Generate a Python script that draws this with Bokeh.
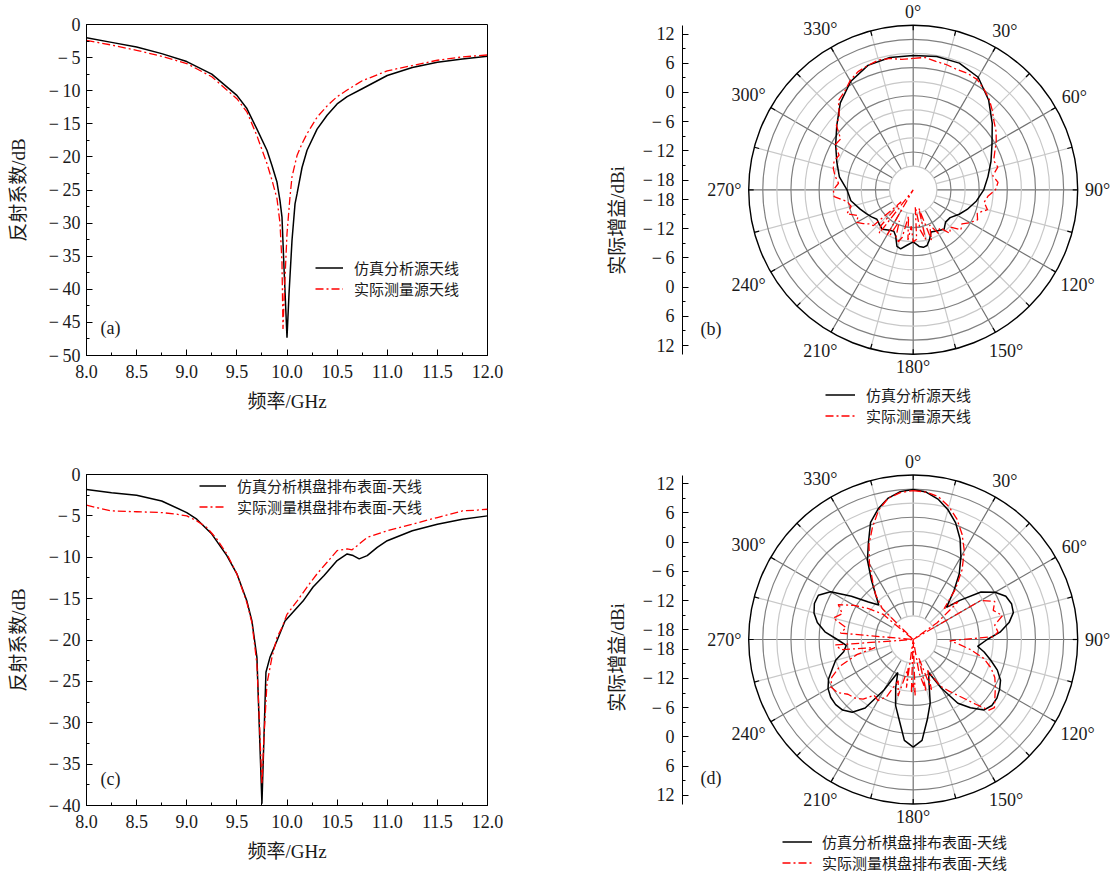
import numpy as np
from bokeh.plotting import figure
from bokeh.models import (Range1d, FixedTicker, Legend, LegendItem, Label, NumeralTickFormatter, Spacer)
from bokeh.layouts import row, column
from bokeh.embed import file_html
from bokeh.resources import INLINE

# ---------------- data ----------------
# (a) source antenna reflection coefficient
freq_a_sim = [8.0, 8.25, 8.5, 8.75, 9.0, 9.25, 9.5, 9.6, 9.7, 9.8, 9.85, 9.9, 9.93, 9.95, 9.97, 10.0,
              10.02, 10.05, 10.08, 10.1, 10.15, 10.2, 10.3, 10.4, 10.5, 10.6, 10.75, 11.0, 11.25, 11.5, 11.75, 12.0]
s11_a_sim = [-2.0, -2.7, -3.4, -4.4, -5.6, -7.5, -10.7, -12.7, -15.8, -19.0, -21.3, -23.8, -26.6, -29.1, -36.7, -47.3,
             -40.7, -32.6, -27.1, -25.6, -21.6, -19.0, -15.8, -13.7, -12.0, -10.9, -9.7, -7.7, -6.5, -5.7, -5.2, -4.8]
freq_a_meas = [8.0, 8.25, 8.5, 8.75, 9.0, 9.25, 9.5, 9.6, 9.7, 9.8, 9.85, 9.9, 9.93, 9.95, 9.96, 9.975,
               10.0, 10.03, 10.05, 10.1, 10.15, 10.2, 10.3, 10.4, 10.5, 10.6, 10.75, 11.0, 11.25, 11.5, 11.75, 12.0]
s11_a_meas = [-2.4, -3.1, -3.9, -4.8, -5.9, -7.9, -11.2, -13.2, -16.8, -21.0, -23.5, -26.3, -30.0, -36.0, -46.0, -40.0,
              -31.6, -26.0, -23.0, -19.8, -18.0, -16.5, -14.0, -12.3, -10.9, -9.9, -8.5, -7.0, -6.2, -5.4, -4.9, -4.6]

# (c) checkerboard surface + antenna reflection coefficient
freq_c_sim = [8.0, 8.25, 8.5, 8.75, 9.0, 9.1, 9.25, 9.4, 9.5, 9.6, 9.65, 9.7, 9.75, 9.79, 9.83, 9.9, 9.98,
              10.07, 10.16, 10.26, 10.37, 10.5, 10.6, 10.66, 10.72, 10.8, 10.9, 11.0, 11.25, 11.5, 11.75, 12.0]
s11_c_sim = [-1.8, -2.2, -2.5, -3.2, -4.6, -5.4, -7.2, -9.8, -12.0, -15.3, -17.7, -22.1, -39.8, -23.9, -22.1, -20.1, -17.7,
             -16.5, -15.3, -13.6, -12.2, -10.4, -9.6, -9.8, -10.2, -9.8, -8.8, -8.0, -6.8, -6.0, -5.4, -5.0]
freq_c_meas = [8.0, 8.1, 8.25, 8.5, 8.75, 8.9, 9.0, 9.1, 9.2, 9.3, 9.4, 9.5, 9.6, 9.65, 9.7, 9.73, 9.75, 9.77,
               9.8, 9.85, 9.9, 9.95, 10.0, 10.1, 10.2, 10.3, 10.4, 10.5, 10.6, 10.65, 10.7, 10.8, 11.0, 11.25,
               11.5, 11.75, 11.9, 12.0]
s11_c_meas = [-3.7, -4.0, -4.4, -4.5, -4.6, -4.8, -5.0, -5.6, -6.4, -7.8, -9.6, -12.0, -15.5, -17.9, -22.9, -31.4, -37.4, -31.8,
              -25.3, -22.1, -19.7, -18.5, -16.9, -15.3, -13.6, -12.0, -10.6, -9.2, -9.0, -9.1, -8.6, -7.6, -6.8, -6.0,
              -5.2, -4.4, -4.3, -4.2]

# (b) source antenna pattern (angle in degrees, gain in dBi)
ang_b_sim = [0, 10, 20, 30, 40, 50, 60, 70, 80, 90, 100, 110, 118, 127, 135, 142, 149, 157, 162, 166, 170, 174,
             180, 186, 192, 196, 201, 205, 210, 218, 225, 231, 237, 243, 250, 260, 270, 280, 290, 300, 310, 320,
             330, 340, 350]
gain_b_sim = [7.6, 7.8, 7.7, 6.7, 4.1, 1.2, -1.3, -3.0, -4.4, -5.5, -6.8, -8.2, -9.3, -10.5, -10.6, -9.7, -10.2,
              -10.6, -9.2, -8.2, -8.0, -8.3, -9.3, -8.6, -7.6, -7.9, -9.9, -10.6, -10.4, -9.7, -10.1, -10.4, -9.8,
              -9.2, -8.4, -7.0, -6.4, -4.6, -3.3, -1.6, 0.5, 3.3, 5.7, 7.2, 7.6]
ang_b_meas = [0, 5, 10, 15, 20, 25, 30, 35, 40, 45, 50, 55, 60, 65, 70, 75, 80, 85, 90, 95, 100, 105, 110, 115,
              120, 125, 130, 135, 140, 145, 150, 155, 160, 163, 166, 170, 173, 176, 180, 183, 186, 190, 193, 196,
              200, 204, 207, 210, 214, 218, 222, 225, 228, 232, 236, 240, 245, 250, 255, 260, 265, 270, 275, 280,
              285, 290, 295, 300, 305, 310, 315, 320, 325, 330, 335, 340, 345, 350, 355]
gain_b_meas = [7.0, 7.3, 6.8, 6.6, 6.3, 6.4, 6.2, 5.3, 4.3, 3.0, 1.7, 0.8, -0.3, -1.5, -2.4, -2.0, -3.4, -2.5,
               -3.1, -4.6, -5.2, -4.2, -6.0, -5.4, -6.5, -7.8, -7.2, -9.2, -8.3, -10.5, -9.7, -12.0, -9.0, -16.0,
               -9.5, -11.6, -16.5, -9.8, -9.3, -12.5, -9.6, -14.5, -10.0, -8.9, -9.7, -13.0, -9.5, -9.3, -22.0,
               -8.7, -10.0, -16.5, -9.0, -8.6, -7.6, -6.6, -7.5, -5.5, -6.8, -6.2, -3.7, -3.6, -4.6, -3.7, -3.0,
               -2.7, -3.2, -1.5, -1.8, 0.6, 1.5, 3.9, 4.6, 5.9, 6.8, 7.2, 7.6, 7.4, 6.9]

# (d) checkerboard surface + antenna pattern
ang_d_sim = [0, 5, 10, 15, 20, 25, 30, 35, 40, 46, 50, 55, 60, 65, 70, 75, 80, 85, 90, 96, 100, 105, 110, 115,
             120, 125, 130, 135, 140, 145, 150, 155, 160, 165, 170, 175, 180, 185, 190, 195, 200, 205, 210, 215,
             220, 225, 230, 235, 240, 245, 250, 255, 260, 265, 270, 275, 280, 285, 290, 295, 300, 305, 310, 315,
             320, 325, 330, 335, 340, 345, 350, 355]
gain_d_sim = [10.8, 10.4, 9.3, 7.6, 5.5, 2.8, -0.4, -3.5, -7.0, -10.5, -7.5, -3.0, -0.6, 1.0, 1.5, 1.3, 0.0, -2.0,
              -4.8, -6.7, -5.2, -3.5, -1.6, -0.2, 0.5, 1.0, 1.1, 0.5, -1.7, -4.0, -8.5, -12.5, -10.5, -6.5, -3.3,
              0.8, 2.1, 0.8, -3.3, -6.0, -9.5, -12.5, -8.0, -2.8, -0.5, 0.5, 0.8, 0.7, 0.2, -0.8, -2.3, -3.5, -5.5,
              -6.2, -4.4, -1.8, 0.0, 1.1, 1.6, 1.5, -0.4, -4.5, -8.0, -10.0, -8.0, -5.0, -1.2, 1.8, 5.6, 7.8, 9.5,
              10.5]
ang_d_meas = [0, 5, 10, 15, 20, 25, 30, 35, 40, 45, 50, 55, 57, 60, 65, 70, 75, 80, 85, 88, 92, 95, 100, 105,
              110, 115, 120, 125, 130, 133, 136, 140, 145, 150, 155, 160, 163, 166, 170, 175, 178, 180, 182, 185,
              188, 190, 195, 200, 205, 210, 215, 220, 225, 230, 235, 240, 245, 250, 255, 258, 262, 266, 270, 275,
              280, 285, 290, 295, 300, 305, 310, 312, 315, 320, 325, 330, 335, 340, 345, 350, 355]
gain_d_meas = [10.6, 10.4, 9.8, 8.3, 6.3, 3.8, 1.0, -2.5, -6.5, -11.0,
               -8.0, -14.0, -25.0, -4.0, -1.5, -2.5, -1.0, -3.0, -2.5, -3.5,
               -12.5, -11.0, -8.0, -5.0, -3.0, -1.5, -0.5, 0.5, 1.8, 1.3,
               -1.5, -4.5, -7.0, -9.0, -13.0, -9.0, -16.0, -9.0, -13.0, -25.0,
               -8.5, -11.0, -9.0, -25.0, -10.0, -14.0, -8.0, -11.0, -7.0, -5.5,
               -6.0, -4.0, -3.0, -2.5, -1.0, -0.5, -1.5, -4.0, -8.0, -12.0,
               -5.0, -4.0, -22.0, -5.0, -6.0, -3.0, -4.5, -3.0, -6.0, -9.0,
               -12.0, -26.0, -11.0, -8.0, -5.5, -2.0, 1.5, 4.5, 7.5, 9.5,
               10.3]

# text / ticks
lab_src_sim = "仿真分析源天线"
lab_src_meas = "实际测量源天线"
lab_chk_sim = "仿真分析棋盘排布表面-天线"
lab_chk_meas = "实际测量棋盘排布表面-天线"
freq_ticks = [8.0, 8.5, 9.0, 9.5, 10.0, 10.5, 11.0, 11.5, 12.0]
gain_ticks_db = [12, 6, 0, -6, -12, -18]
angle_ticks = [0, 30, 60, 90, 120, 150, 180, 210, 240, 270, 300, 330]
GAIN_MIN = -20.0  # dBi at the centre of the polar plots

# ---------------- styles ----------------
SERIF = "'Liberation Serif'"
MIXED = "'Liberation Serif', 'Noto Sans CJK SC'"
MINUS = "\u2212\u2009"
RED = "#ff0000"
DASHDOT = "8 3 2 3"
NUM_SIZE = "18px"
TITLE_SIZE = "19px"
LEG_SIZE = "15px"
TXT = "#1a1a1a"


def fmt(v):
    return MINUS + str(abs(v)) if v < 0 else str(v)


def style_axis(ax, label):
    ax.axis_label = label
    ax.axis_label_text_font = MIXED
    ax.axis_label_text_font_size = TITLE_SIZE
    ax.axis_label_text_font_style = "normal"
    ax.axis_label_text_color = TXT
    ax.major_label_text_font = SERIF
    ax.major_label_text_font_size = NUM_SIZE
    ax.major_label_text_color = TXT
    ax.major_tick_in = 6
    ax.major_tick_out = 0
    ax.minor_tick_in = 3
    ax.minor_tick_out = 0
    ax.axis_line_color = "black"
    ax.major_tick_line_color = "black"
    ax.minor_tick_line_color = "black"


def make_legend(items, loc, glyph_w, standoff):
    return Legend(items=items, location=loc, border_line_alpha=0, background_fill_alpha=0,
                  glyph_width=glyph_w, glyph_height=19, label_height=19, label_standoff=standoff,
                  spacing=0, padding=0, margin=0, label_text_font=MIXED,
                  label_text_font_size=LEG_SIZE, label_text_color=TXT)


def sparam_fig(h, top, bottom, ymin, fs, ss, fm, sm, lab_s, lab_m, leg_loc, leg_gw, tag, tag_y):
    p = figure(width=600, height=h, x_range=Range1d(8, 12), y_range=Range1d(ymin, 0),
               output_backend="svg", toolbar_location=None,
               min_border_left=86, min_border_right=113, min_border_top=top, min_border_bottom=bottom)
    p.grid.visible = False
    p.outline_line_color = "black"
    p.outline_line_width = 1
    p.outline_line_alpha = 1
    p.xaxis.ticker = FixedTicker(ticks=freq_ticks,
                                 minor_ticks=[float(v) for v in np.arange(8.0, 12.01, 0.25)])
    p.xaxis.formatter = NumeralTickFormatter(format="0.0")
    yt = list(range(ymin, 1, 5))
    p.yaxis.ticker = FixedTicker(ticks=yt, minor_ticks=[float(v) for v in np.arange(ymin, 0.01, 2.5)])
    p.yaxis.major_label_overrides = {v: fmt(v) for v in yt}
    style_axis(p.xaxis[0], "频率/GHz")
    style_axis(p.yaxis[0], "反射系数/dB")
    p.xaxis.major_label_standoff = 9
    p.xaxis.axis_label_standoff = 10
    p.yaxis.major_label_standoff = 6
    p.yaxis.axis_label_standoff = 17
    r1 = p.line(fs, ss, line_color="black", line_width=1.5)
    r2 = p.line(fm, sm, line_color=RED, line_width=1.3, line_dash=DASHDOT)
    p.add_layout(make_legend([LegendItem(label=lab_s, renderers=[r1]),
                              LegendItem(label=lab_m, renderers=[r2])], leg_loc, leg_gw, 11))
    p.add_layout(Label(x=8.14, y=tag_y, text=tag, text_font=SERIF, text_font_size=NUM_SIZE,
                       text_baseline="middle", text_align="left", text_color=TXT))
    return p


S = 4.867            # px per dB in polar plots
R_IN = 23.7 / S
R_OUT = 164.5 / S


def to_xy(ang, gain):
    a = np.radians(np.append(ang, ang[0]))
    r = np.clip(np.append(gain, gain[0]) - GAIN_MIN, 0, None)
    return r * np.sin(a), r * np.cos(a)


def polar_fig(h, cy, ang_s, g_s, ang_m, g_m, lab_s, lab_m, leg_loc, leg_gw, leg_so, tag):
    cx, left, w = 312.7, 82, 514
    p = figure(width=w, height=h, x_range=Range1d((left - cx) / S, (w - cx) / S),
               y_range=Range1d(-(h - cy) / S, cy / S), x_axis_location=None,
               output_backend="svg", toolbar_location=None,
               min_border_left=left, min_border_right=0, min_border_top=0, min_border_bottom=0)
    p.grid.visible = False
    p.outline_line_color = None
    ticks = [g - GAIN_MIN for g in gain_ticks_db] + [-(g - GAIN_MIN) for g in gain_ticks_db[::-1]]
    ticks = [int(t) for t in ticks]
    minor = [t - 3 for t in ticks if t > 0 and t - 3 > 0] + [t + 3 for t in ticks if t < 0 and t + 3 < 0]
    p.yaxis.ticker = FixedTicker(ticks=ticks, minor_ticks=minor)
    p.yaxis.major_label_overrides = {t: fmt(int(abs(t) + GAIN_MIN)) for t in ticks}
    p.yaxis.bounds = (-R_OUT, R_OUT)
    style_axis(p.yaxis[0], "实际增益/dBi")
    p.yaxis.major_label_standoff = 8
    p.yaxis.axis_label_standoff = 12

    # grid: spokes
    for start, col in ((15, "#c8c8c8"), (0, "#707070")):
        a = np.radians(np.arange(start, 360, 30))
        p.segment(x0=R_IN * np.sin(a), y0=R_IN * np.cos(a), x1=R_OUT * np.sin(a), y1=R_OUT * np.cos(a),
                  line_color=col, line_width=1.2)
    # grid: circles
    step = (R_OUT - R_IN) / 10
    light = [R_IN + k * step for k in (2, 4, 6, 8)]
    dark = [R_IN + k * step for k in (1, 3, 5, 7, 9)]
    p.circle(x=[0] * 4, y=[0] * 4, radius=light, fill_color=None, line_color="#c8c8c8", line_width=1.2)
    p.circle(x=[0] * 5, y=[0] * 5, radius=dark, fill_color=None, line_color="#808080", line_width=1.2)
    p.circle(x=[0], y=[0], radius=[R_IN], fill_color="white", line_color="#c8c8c8", line_width=1.2)
    p.circle(x=[0], y=[0], radius=[R_OUT], fill_color=None, line_color="black", line_width=1.4)
    a = np.radians(np.arange(0, 360, 15))
    rt = R_OUT - 5 / S
    p.segment(x0=rt * np.sin(a), y0=rt * np.cos(a), x1=R_OUT * np.sin(a), y1=R_OUT * np.cos(a),
              line_color="black", line_width=1.2)

    # angle labels
    for t in angle_ticks:
        s = f"{t}°"
        at = np.radians(t)
        rl = (164.5 + 6 + 4.6 * len(s) * abs(np.sin(at)) + 7 * abs(np.cos(at))) / S
        p.add_layout(Label(x=float(rl * np.sin(at)), y=float(rl * np.cos(at)), text=s,
                           text_align="center", text_baseline="middle", text_font=SERIF,
                           text_font_size=NUM_SIZE, text_color=TXT))

    xs, ys = to_xy(ang_s, g_s)
    r1 = p.line(xs, ys, line_color="black", line_width=1.5)
    xm, ym = to_xy(ang_m, g_m)
    r2 = p.line(xm, ym, line_color=RED, line_width=1.3, line_dash=DASHDOT)

    p.add_layout(make_legend([LegendItem(label=lab_s, renderers=[r1]),
                              LegendItem(label=lab_m, renderers=[r2])], leg_loc, leg_gw, leg_so))
    p.add_layout(Label(x=-212.7 / S, y=-138.7 / S, text=tag, text_font=SERIF, text_font_size=NUM_SIZE,
                       text_baseline="middle", text_align="left", text_color=TXT))
    return p


# row 1 (y 0..440): linear frame 24..355; polar panel offset by 1px so frames are not aligned
pa = sparam_fig(440, 24, 85, -50, freq_a_sim, s11_a_sim, freq_a_meas, s11_a_meas,
                lab_src_sim, lab_src_meas, (229, 56.5), 28, "(a)", -45.9)
pb = polar_fig(438, 188.3, ang_b_sim, gain_b_sim, ang_b_meas, gain_b_meas,
               lab_src_sim, lab_src_meas, (143, 13.5), 30, 11, "(b)")
# row 2 (y 440..874): linear frame 474..805
pc = sparam_fig(434, 34, 69, -40, freq_c_sim, s11_c_sim, freq_c_meas, s11_c_meas,
                lab_chk_sim, lab_chk_meas, (113, 288.5), 27, "(c)", -36.8)
pd = polar_fig(432, 198.0, ang_d_sim, gain_d_sim, ang_d_meas, gain_d_meas,
               lab_chk_sim, lab_chk_meas, (100, 0), 30, 10, "(d)")

layout = column(row(pa, column(Spacer(width=514, height=1), pb)),
                row(pc, column(Spacer(width=514, height=1), pd)))
html = file_html(layout, INLINE, title="反射系数与方向图")
with open("out.html", "w", encoding="utf-8") as f:
    f.write(html)
